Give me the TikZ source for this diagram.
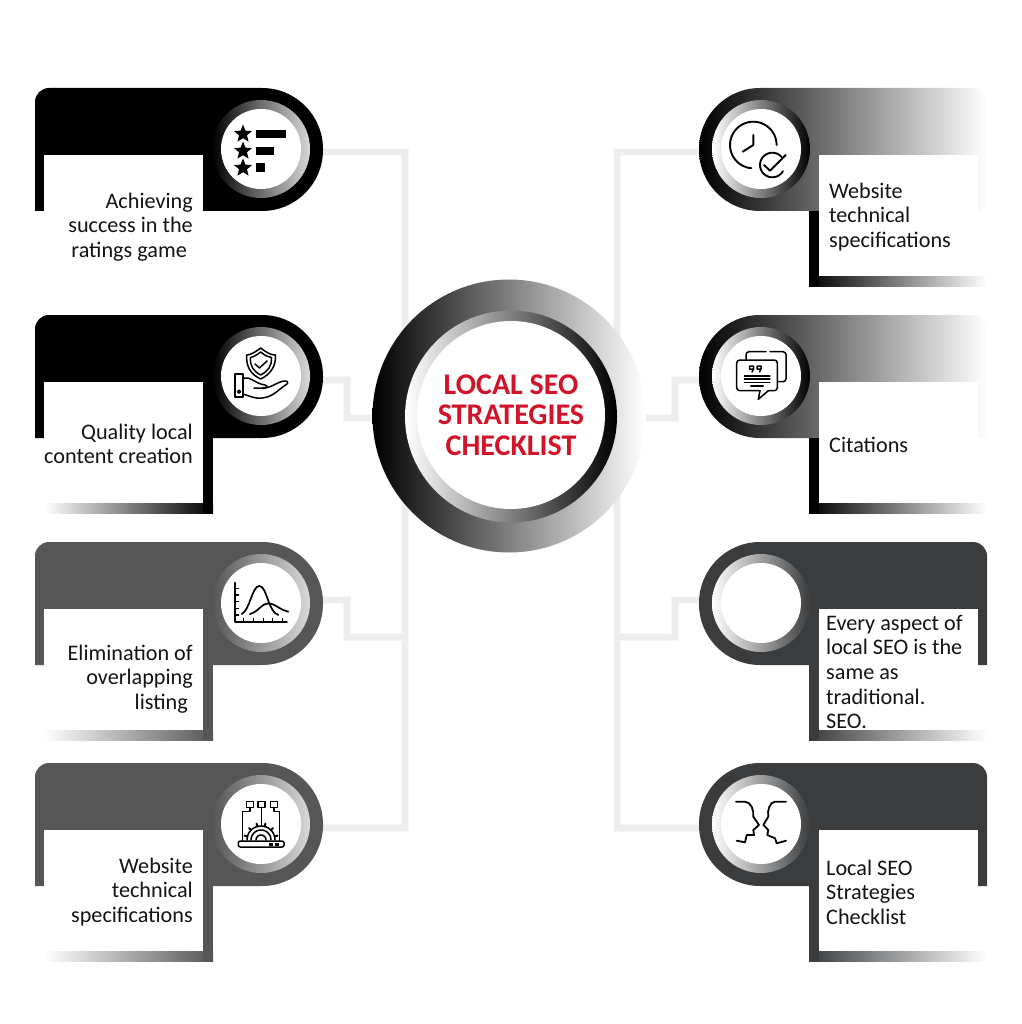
\documentclass[tikz,border=0pt]{standalone}
\usepackage{fontspec}
\setmainfont{Carlito}
\usetikzlibrary{shapes.geometric,backgrounds}
\definecolor{cardgrey}{HTML}{565656}
\definecolor{slate}{HTML}{3A3C3E}
\definecolor{wirecol}{HTML}{EDEDED}
\definecolor{wirehalo}{HTML}{F6F6F6}
\definecolor{hubred}{HTML}{D2142A}
\tikzset{
    wire/.style={draw=wirecol, line width=5.5pt, preaction={draw=wirehalo, line width=8pt}},
    fadecard/.style={left color=black, right color=white},
    solidcard/.style={fill=slate},
    ring/.style={shape=circle, minimum size=98pt, inner sep=0pt},
    badge/.style={shape=circle, fill=white, minimum size=80pt, inner sep=0pt},
    cardtext/.style={inner sep=0pt, text=black!92, font=\fontsize{22.2}{24.6}\selectfont},
    glyph/.style={line width=1.5pt, line cap=round, line join=round},
    starmark/.style={shape=star, star points=5, star point ratio=2.3, fill=black, minimum size=19pt, inner sep=0pt}
}
\begin{document}
\begin{tikzpicture}[x=1pt, y=-1pt]
    \useasboundingbox (0,0) rectangle (1021,1024);

    % left cards
    \foreach \n/\y/\base/\low in {A/88/black/white, B/315/black/black, C/542/cardgrey/cardgrey, D/763/cardgrey/cardgrey} {
        \fill[\base] (35,\y+123) [rounded corners=14pt] -- (35,\y) [rounded corners=61pt] -- (323,\y) -- (323,\y+123) [sharp corners] -- cycle;
        \shade[left color=white, right color=\low] (44,\y+188) rectangle (213,\y+198);
        \fill[\low] (203,\y+123) rectangle (213,\y+198);
        \fill[white] (44,\y+67) rectangle (203,\y+188);
        \node[ring, left color=\base, right color=black!15] (ring\n) at (261,\y+61) {};
        \node[badge] (badge\n) at (261,\y+61) {};
    };
    \node[cardtext, align=right, anchor=east] (textA) at (193,227) {Achieving\\success in the\\ratings game\hspace*{6pt}};
    \node[cardtext, align=right, anchor=east] (textB) at (193,444) {Quality local\\content creation};
    \node[cardtext, align=right, anchor=east] (textC) at (193,679) {Elimination of\\overlapping\\listing\hspace*{5pt}};
    \node[cardtext, align=right, anchor=east] (textD) at (193,892) {Website\\technical\\specifications};

    % right cards
    \foreach \n/\y/\sty/\low in {E/88/fadecard/black, F/315/fadecard/black, G/542/solidcard/slate, H/763/solidcard/slate} {
        \path[\sty] (987,\y+123) [rounded corners=14pt] -- (987,\y) [rounded corners=61pt] -- (699,\y) -- (699,\y+123) [sharp corners] -- cycle;
        \shade[left color=\low, right color=white] (809,\y+188) rectangle (987,\y+198);
        \fill[\low] (809,\y+123) rectangle (819,\y+198);
        \fill[white] (819,\y+67) rectangle (978,\y+188);
        \node[ring, left color=white, right color=\low] (ring\n) at (761,\y+61) {};
        \node[badge] (badge\n) at (761,\y+61) {};
    };
    \node[cardtext, align=left, anchor=west] (textE) at (829,217) {Website\\technical\\specifications};
    \node[cardtext, align=left, anchor=west] (textF) at (829,445) {Citations};
    \node[cardtext, align=left, anchor=west] (textG) at (826,672) {Every aspect of\\local SEO is the\\same as\\traditional.\\SEO.};
    \node[cardtext, align=left, anchor=west] (textH) at (826,892) {Local SEO\\Strategies\\Checklist};

    % centre
    \node[shape=circle, minimum size=273pt, left color=black, right color=white] (hub) at (509,416) {};
    \node[shape=circle, minimum size=212pt, left color=white, right color=black] (hubring) at (511,416.5) {};
    \node[shape=circle, fill=white, minimum size=188pt, inner sep=0pt, align=center, text=hubred,
        font=\fontsize{30}{30.6}\bfseries\selectfont] (hubface) at (511,415) {LOCAL SEO\\STRATEGIES\\CHECKLIST};

    % ratings icon
    \foreach \s/\sy in {1/134, 2/151, 3/168} {
        \node[starmark] (star\s) at (243,\sy) {};};
    \fill (256,130) rectangle (286,138);
    \fill (256,147) rectangle (274,155);
    \fill (256,163) rectangle (265,172);

    % shield and hand icon
    \draw[glyph] (260.7,348) .. controls (254,353) and (250,355) .. (246.7,355) .. controls (246,366) and (250,374) .. (260.7,379) .. controls (271,374) and (276,366) .. (275.5,355) .. controls (271,355) and (267,353) .. (260.7,348) -- cycle;
    \draw[glyph] (260.7,352) .. controls (256,355.5) and (253,357) .. (250.5,357.5) .. controls (250,366) and (253,371) .. (260.7,375) .. controls (268,371) and (272,366) .. (271.5,357.5) .. controls (268,357) and (265,355.5) .. (260.7,352) -- cycle;
    \draw[glyph] (255,364) -- (259.5,368) -- (267,361);
    \draw[glyph] (235,374) rectangle (243,397);
    \draw[glyph] (239,391.7) circle (1.5);
    \draw[glyph] (243,378) .. controls (250,376) and (256,384) .. (265,385) .. controls (269,386) and (268,389) .. (254,388);
    \draw[glyph] (262,388.5) .. controls (272,388) and (280,380) .. (286,381) .. controls (289,382) and (288,384) .. (284,386) .. controls (276,392) and (272,397) .. (262,398) .. controls (255,399) and (250,396) .. (243,394);

    % curves icon
    \draw[glyph, line width=1.8pt] (235,582.7) -- (235,621.7) -- (287,621.7);
    \foreach \t in {588.3, 595, 601.7, 608.3, 615} {
        \draw[glyph] (235,\t) -- (238.5,\t);};
    \foreach \t in {243.3, 253.3, 263.3, 272.7, 282.7} {
        \draw[glyph] (\t,621.7) -- (\t,618.5);};
    \draw[glyph, line width=1.7pt] (241.7,614) .. controls (250,610) and (252,586) .. (259.3,586) .. controls (267,586) and (268,612) .. (278.3,615);
    \draw[glyph, line width=1.7pt] (250,614) .. controls (258,612) and (262,603.3) .. (268.3,603.3) .. controls (275,603.3) and (278,609) .. (288.3,611.7);

    % laptop and gear icon
    \foreach \bx in {250, 261.7, 274} {
        \draw[glyph] (\bx-3.5,801.3) rectangle (\bx+3.5,807.3);};
    \draw[glyph] (261.7,807.3) -- (261.7,825);
    \draw[glyph] (250,807.3) -- (250,811.7) -- (242.7,811.7) -- (242.7,841);
    \draw[glyph] (274,807.3) -- (274,811.7) -- (279.3,811.7) -- (279.3,841);
    \draw[glyph, rounded corners=2pt] (238.3,841) rectangle (284,847);
    \draw[glyph] plot[domain=180:360, samples=24] ({261+14*cos(\x)},{840+14*sin(\x)});
    \draw[glyph] plot[domain=180:360, samples=24] ({261+10*cos(\x)},{840+10*sin(\x)});
    \draw[glyph] plot[domain=180:360, samples=24] ({261+5*cos(\x)},{840+5*sin(\x)});
    \foreach \a in {195, 225, 255, 285, 315, 345} {
        \draw[glyph, line width=2pt] ({261+14*cos(\a)},{840+14*sin(\a)}) -- ({261+17*cos(\a)},{840+17*sin(\a)});};
    \fill (269,843) rectangle (273,846);
    \fill (275,843) rectangle (279,846);

    % clock icon
    \draw[glyph, line width=1.9pt] plot[domain=0:-265, samples=40] ({753.3+23.3*cos(\x)},{145+23.3*sin(\x)});
    \draw[glyph, line width=1.9pt] (753.3,135) -- (753.3,145) -- (742.7,151.7);
    \draw[glyph, line width=1.9pt] plot[domain=-40:-330, samples=30] ({772.3+12.3*cos(\x)},{165+12.3*sin(\x)});
    \draw[glyph, line width=1.9pt] (764,165) -- (770,170.7) -- (785.7,155);

    % chat icon
    \draw[glyph, rounded corners=3pt] (768.3,390.7) -- (777.3,390.7) -- (777.3,360) -- (736.7,360) -- (736.7,390.7) -- (760,390.7);
    \draw[glyph] (768.3,390.7) -- (758.3,399.3) -- (760,390.7);
    \draw[glyph, rounded corners=3pt] (746,360) -- (746,351.7) -- (766,351.7);
    \draw[glyph, rounded corners=3pt] (770,351.7) -- (786,351.7) -- (786,381.7) -- (777.3,381.7);
    \foreach \q in {749.5, 757} {
        \draw[glyph] (\q,366) rectangle (\q+4,369) (\q+4,369) -- (\q+2.5,372);};
    \foreach \l in {376, 379, 382.3} {
        \draw[glyph, line width=1.2pt] (744.3,\l) -- (770,\l);};
    \draw[glyph, line width=1.2pt] (750.7,386) -- (763.3,386);

    % faces icon
    \draw[glyph, line width=1.8pt] (736,801.7) -- (745,801.7) .. controls (751,802) and (754,810) .. (753.3,816.7) -- (759,825) -- (753.3,830) -- (754,835) -- (746.7,835) -- (745,842.3) -- (736.7,840.7);
    \draw[glyph, line width=1.8pt] (786,801.7) -- (775,801.7) .. controls (770,802) and (767,810) .. (768.3,816.7) -- (763.3,825) -- (768.3,830) -- (767.3,835) -- (775,838.3) -- (776.7,843.3) -- (786,840.7);

    % connectors
    \coordinate (busLtop) at (405,152);
    \coordinate (busLbot) at (405,828);
    \coordinate (busLmid) at (405,637);
    \coordinate (busRtop) at (617,152);
    \coordinate (busRbot) at (617,828);
    \coordinate (busRmid) at (617,637);
    \begin{scope}[on background layer]
        \draw[wire] ([yshift=-3pt]ringA.east) -- (busLtop) -- (busLbot) -- ([yshift=-4pt]ringD.east);
        \draw[wire] ([yshift=-3pt]ringE.west) -- (busRtop) -- (busRbot) -- ([yshift=-4pt]ringH.west);
        \draw[wire] ([yshift=-4pt]ringB.east) -| (347,418) -- ([yshift=-2pt]hub.west);
        \draw[wire] ([yshift=-4pt]ringF.west) -| (675,418) -- ([yshift=-2pt]hub.east);
        \draw[wire] ([yshift=3pt]ringC.east) -| (347,637) -- (busLmid);
        \draw[wire] ([yshift=3pt]ringG.west) -| (675,637) -- (busRmid);
    \end{scope}
\end{tikzpicture}
\end{document}
